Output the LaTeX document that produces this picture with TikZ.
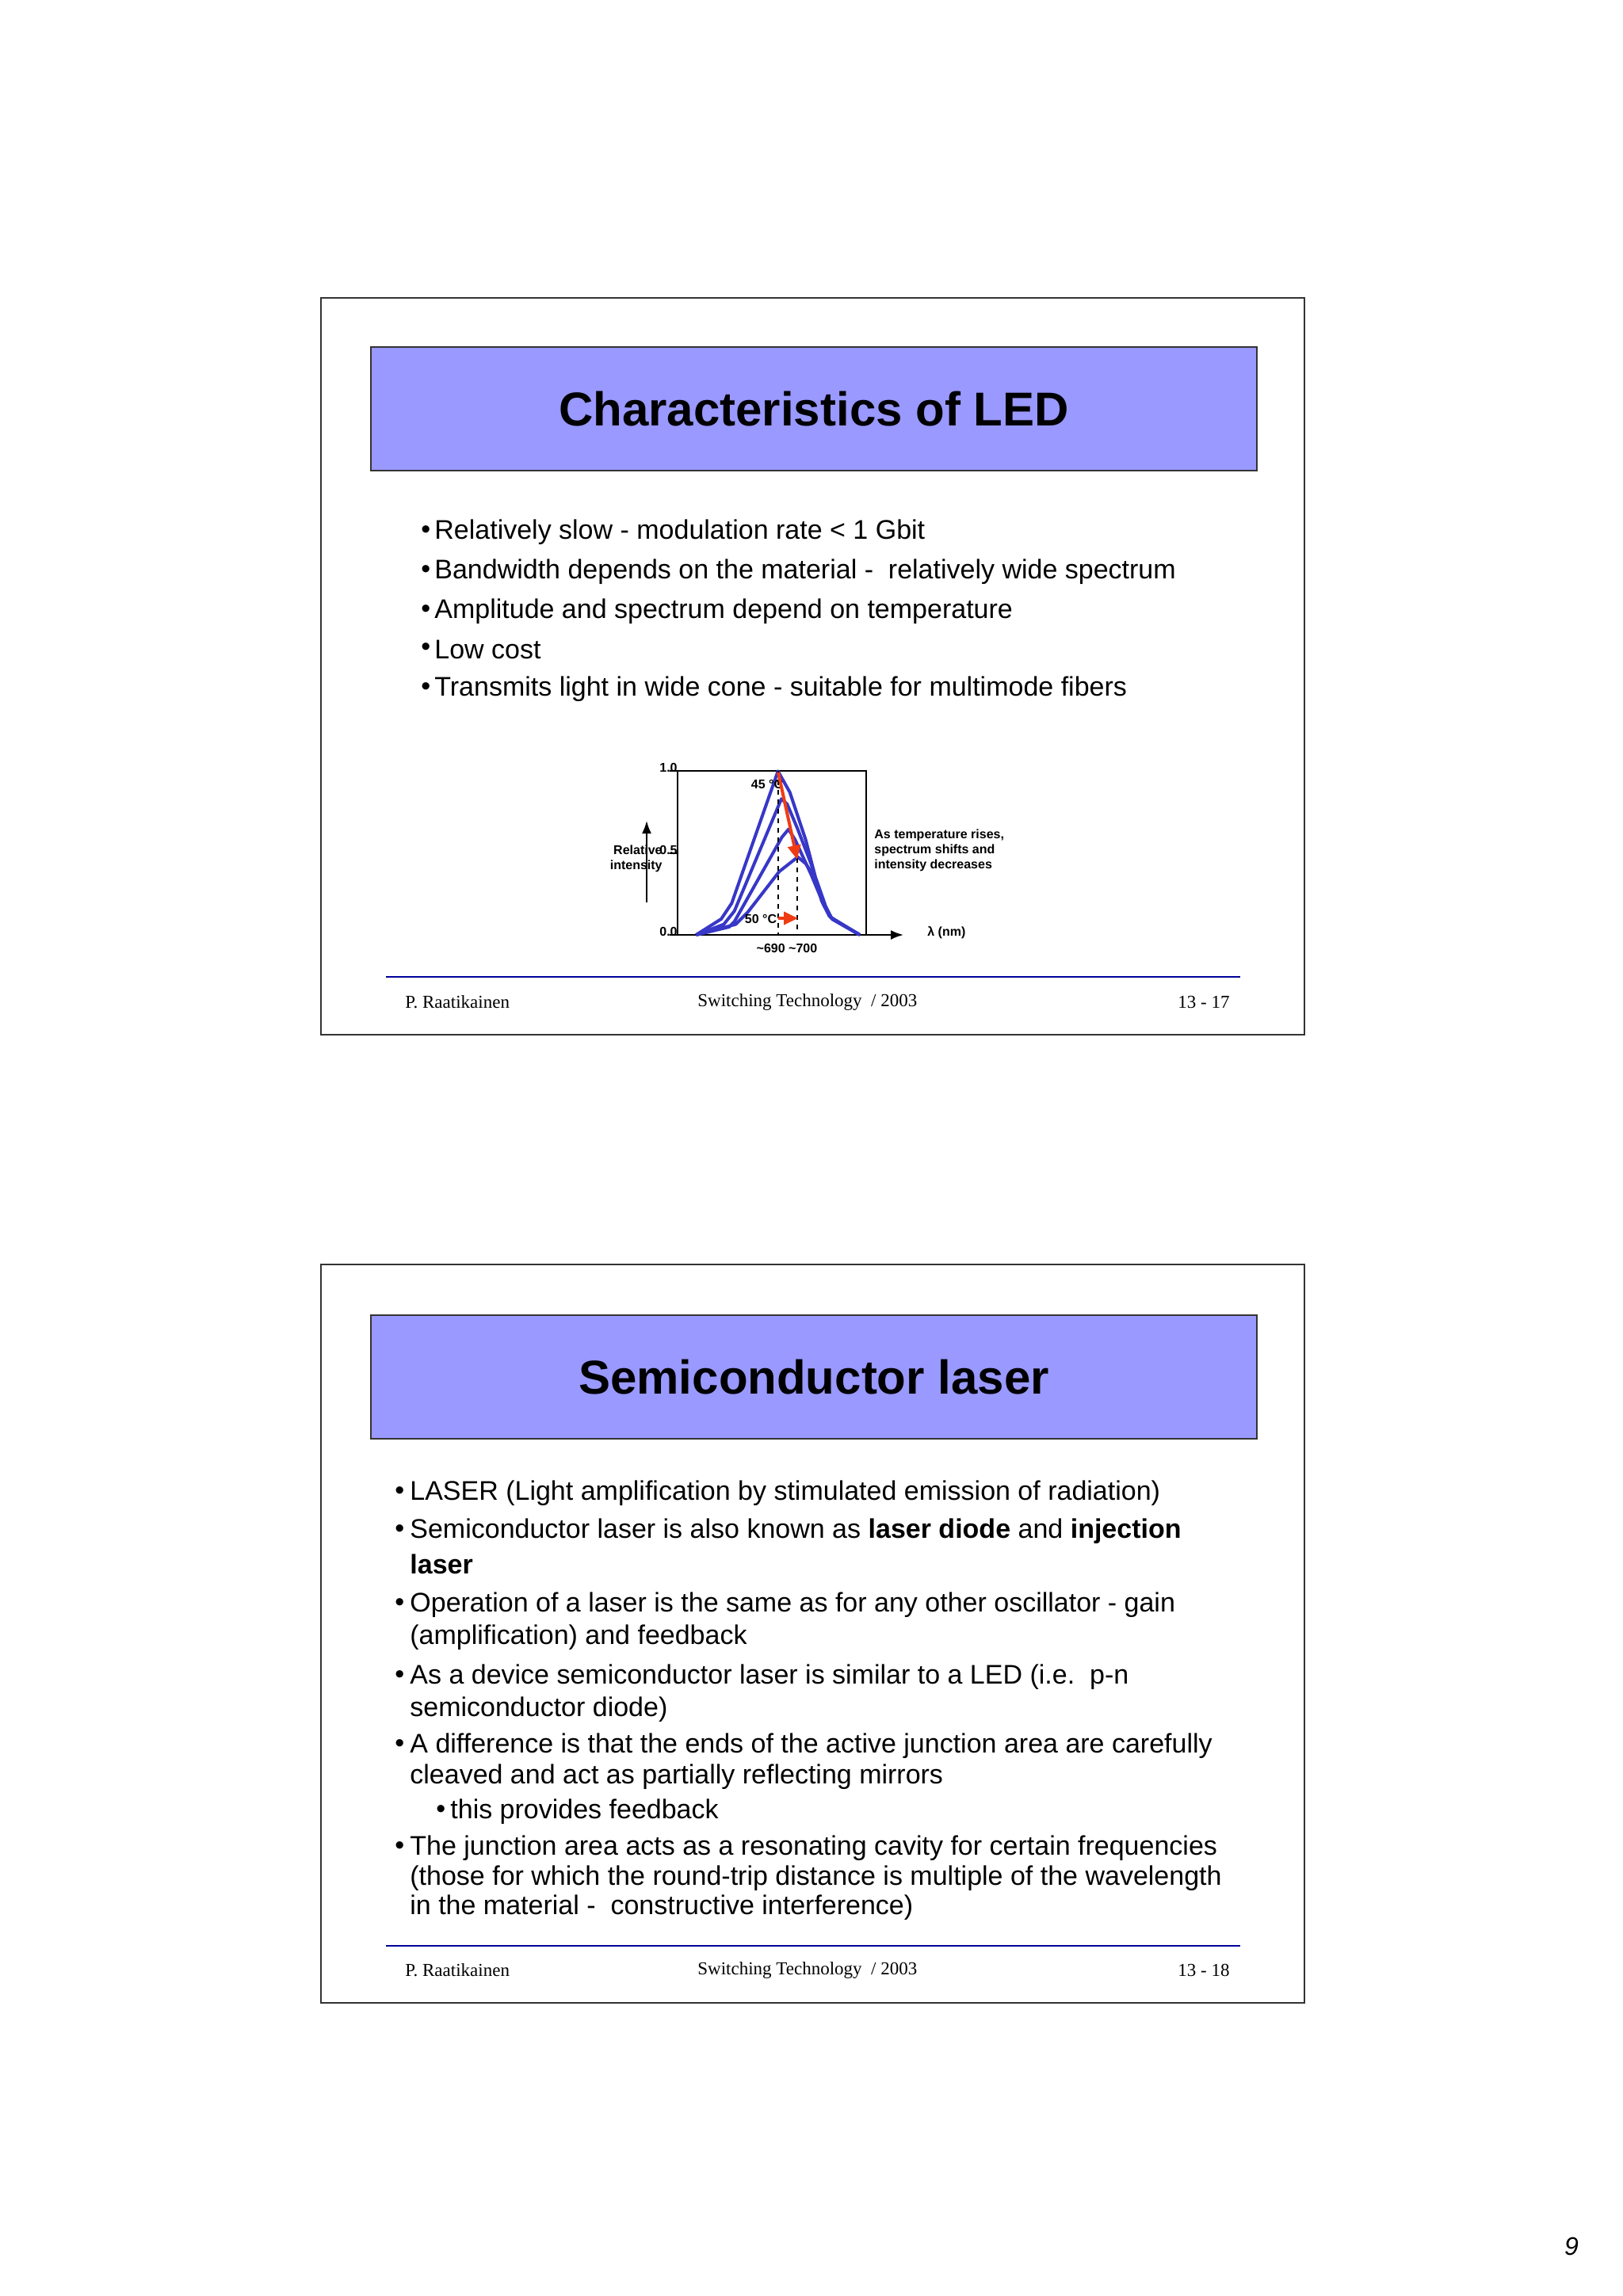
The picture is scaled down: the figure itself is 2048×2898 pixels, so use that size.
\documentclass[tikz,border=0pt]{standalone}
\usepackage{fontspec}
\setmainfont{Liberation Sans}
\newfontfamily\serifft{Liberation Serif}
\usetikzlibrary{arrows.meta}
\definecolor{titlebg}{RGB}{153,153,255}
\definecolor{curve}{RGB}{55,55,200}
\definecolor{redarr}{RGB}{240,60,20}
\tikzset{
 frame/.style={draw=black!80,line width=1pt},
 titlebox/.style={draw=black!80,fill=titlebg,line width=1pt},
 titletext/.style={font=\fontsize{30}{34}\selectfont\bfseries},
 bul/.style={anchor=west,inner sep=0pt,font=\fontsize{17}{20}\selectfont},
 foot/.style={inner sep=0pt,font=\serifft\fontsize{11.5}{13}\selectfont},
 small/.style={inner sep=0pt,font=\fontsize{8}{9.5}\selectfont\bfseries},
 crv/.style={curve,line width=2pt,line join=round},
}
\begin{document}
\begin{tikzpicture}[x=0.5pt,y=-0.5pt]
\useasboundingbox (0,0) rectangle (2048,2898);
% slide 1
\draw[frame] (405,376) rectangle (1646,1306);
\node[titlebox,minimum width=1118*0.5pt,minimum height=156*0.5pt,anchor=north west] (t1) at (467,437) {};
\node[titletext] at (t1.center) {Characteristics of LED};
\foreach \y/\t in {672/Relatively slow - modulation rate < 1 Gbit/s,
 722/Bandwidth depends on the material -\ \ relatively wide spectrum,
 772/Amplitude and spectrum depend on temperature,
 820/Low cost,
 870/Transmits light in wide cone - suitable for multimode fibers}{
 \node[bul] at (531,\y) {•};
 \node[bul] at (548,\y) {\t};
}
% chart
\node[coordinate] (bl) at (855,1180) {};
\node[coordinate] (tr) at (1093,973) {};
\draw[line width=1pt] (bl) rectangle (tr);
\node[coordinate] (xe) at (1140,1180) {};
\draw[line width=1pt,-{Latex[length=8pt]}] (bl -| tr) -- (xe);
\node[coordinate] (ya) at (816,1139) {};
\node[coordinate] (yb) at (816,1036) {};
\draw[line width=1pt,-{Latex[length=8pt]}] (ya) -- (yb);
\draw[line width=0.8pt] (845,973) -- (855,973) (845,1077) -- (855,1077) (845,1180) -- (855,1180);
\node[small,anchor=south east] at (855,975) {1.0};
\node[small,anchor=south east] at (855,1079) {0.5};
\node[small,anchor=south east] at (855,1182) {0.0};
\node[small,align=right,anchor=east] at (836,1084) {Relative\\intensity};
\node[small,anchor=west] at (1170,1177) {λ (nm)};
\node[small] at (993,1197) {\char`~690 \char`~ 700};
\node[small,align=left,anchor=west] at (1103,1073) {As temperature rises,\\spectrum shifts and\\intensity decreases};
\begin{scope}[shift={(740,950)},xscale=1/3,yscale=1/3]
\draw[crv] (415,690)--(510,630)--(550,570)--(725,70)--(770,150)--(830,330)--(890,560)--(920,620)--(1035,690);
\draw[crv] (415,690)--(520,650)--(560,600)--(738,175)--(760,195)--(800,290)--(850,420)--(895,570)--(925,625)--(1035,690);
\draw[crv] (415,690)--(540,660)--(560,640)--(740,320)--(765,290)--(790,330)--(850,460)--(900,580)--(930,630)--(1035,690);
\draw[crv] (415,690)--(565,650)--(610,605)--(730,450)--(800,395)--(830,420)--(870,480)--(905,580)--(930,630)--(1035,690);
\end{scope}
\draw[line width=1pt,dashed] (982,973) -- (982,1180) (1006,1083) -- (1006,1180);
\node[small] at (968,990) {45 °C};
\node[small] at (960,1160) {50 °C};
\node[coordinate] (p1) at (982,975) {};
\node[coordinate] (p2) at (1006,1085) {};
\draw[redarr,line width=2pt,-{Triangle[length=9pt,width=8pt]}] (p1) -- (p2);
\node[coordinate] (q1) at (982,1159) {};
\node[coordinate] (q2) at (1007,1159) {};
\draw[redarr,line width=2pt,-{Triangle[length=9pt,width=8pt]}] (q1) -- (q2);
% footer 1
\draw[blue!60!black,line width=0.8pt] (487,1233) -- (1565,1233);
\node[foot,anchor=west] at (511,1265) {P. Raatikainen};
\node[foot,anchor=west] at (880,1265) {Switching Technology\ \ / 2003};
\node[foot,anchor=east] at (1552,1265) {13 - 17};
% slide 2
\draw[frame] (405,1596) rectangle (1646,2528);
\node[titlebox,minimum width=1118*0.5pt,minimum height=156*0.5pt,anchor=north west] (t2) at (467,1659) {};
\node[titletext] at (t2.center) {Semiconductor laser};
\foreach \y in {1885,1933,2026,2117,2204,2333}{\node[bul] at (498,\y) {•};}
\node[bul] at (550,2287) {•};
\foreach \y/\t in {1885/LASER (Light amplification by stimulated emission of radiation),
 1933/Semiconductor laser is also known as \textbf{laser diode} and \textbf{injection},
 1974/\textbf{laser},
 2026/Operation of a laser is the same as for any other oscillator - gain,
 2067/(amplification) and feedback,
 2117/As a device semiconductor laser is similar to a LED (i.e.\ \ p-n,
 2158/semiconductor diode),
 2204/A difference is that the ends of the active junction area are carefully,
 2243/cleaved and act as partially reflecting mirrors,
 2333/The junction area acts as a resonating cavity for certain frequencies,
 2371/(those for which the round-trip distance is multiple of the wavelength,
 2408/in the material -\ \ constructive interference)}{
 \node[bul] at (517,\y) {\t};
}
\node[bul] at (568,2287) {this provides feedback};
\draw[blue!60!black,line width=0.8pt] (487,2456) -- (1565,2456);
\node[foot,anchor=west] at (511,2487) {P. Raatikainen};
\node[foot,anchor=west] at (880,2487) {Switching Technology\ \ / 2003};
\node[foot,anchor=east] at (1552,2487) {13 - 18};
\node[inner sep=0pt,font=\fontsize{16}{18}\selectfont\itshape] at (1983,2835) {9};
\end{tikzpicture}
\end{document}
